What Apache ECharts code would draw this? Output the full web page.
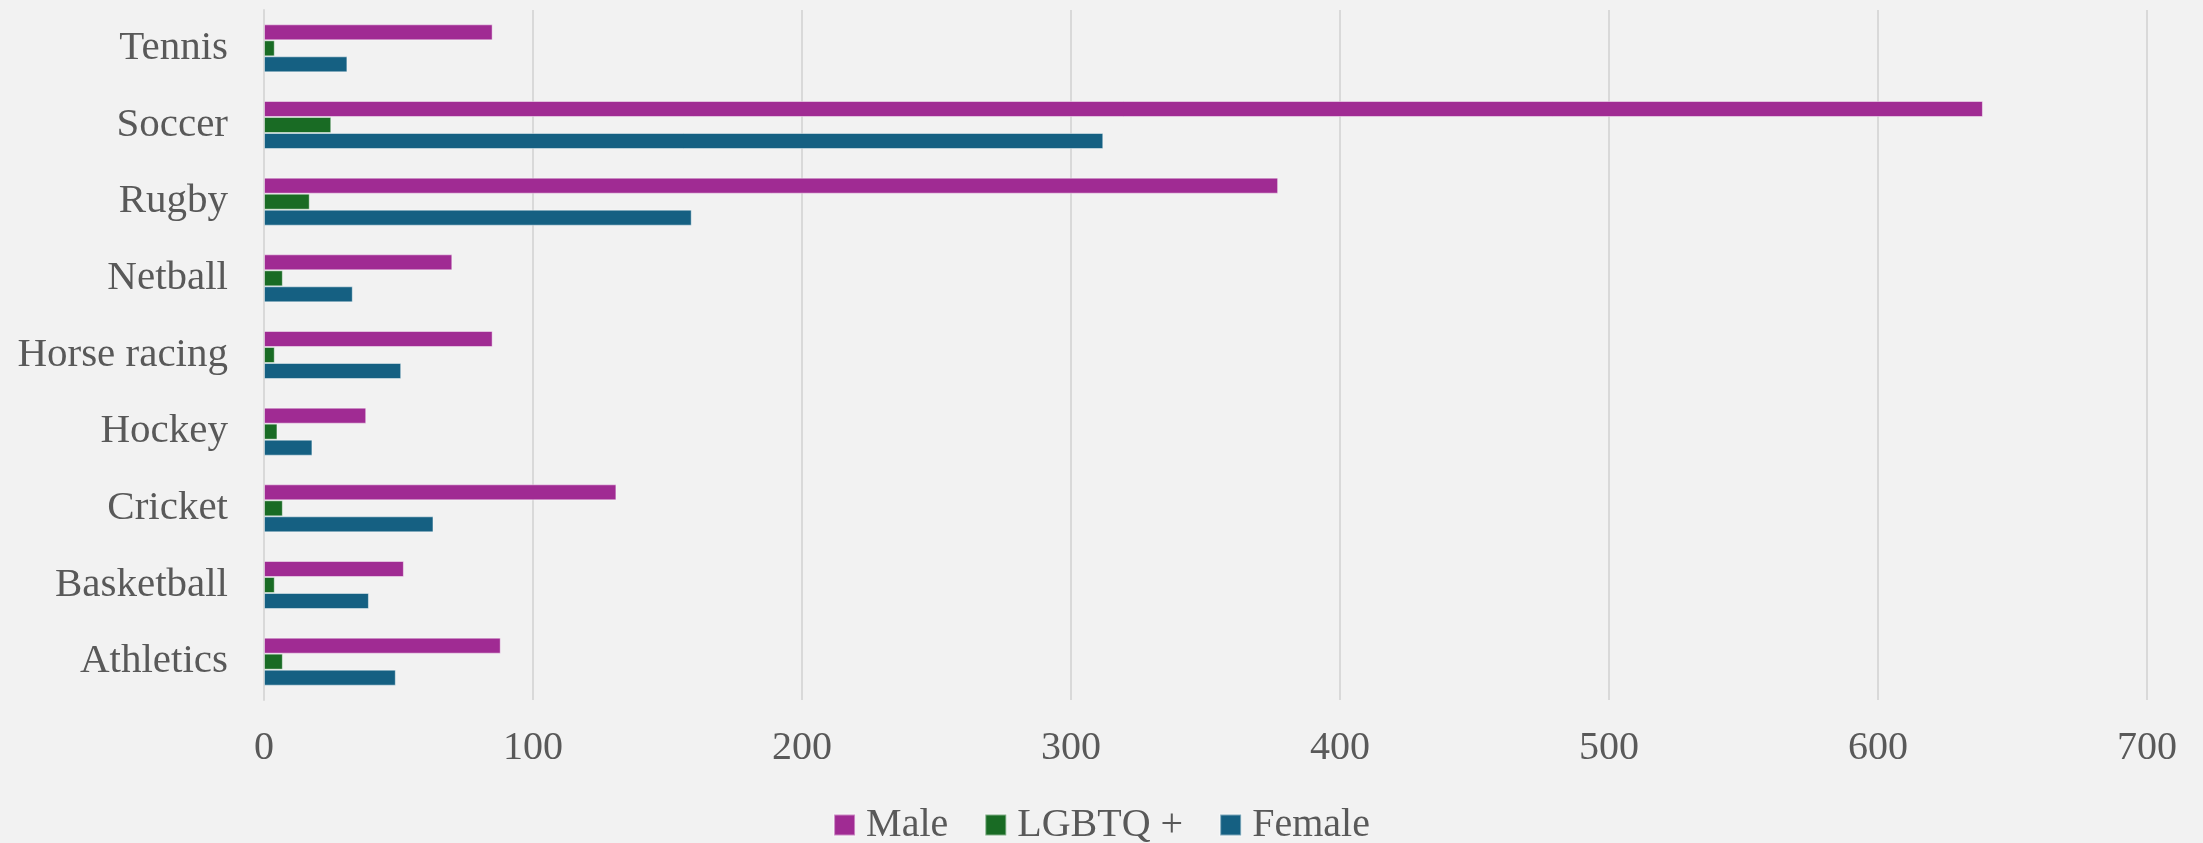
<!DOCTYPE html>
<html>
<head>
<meta charset="utf-8">
<title>Sport participants by gender</title>
<script src="https://cdn.jsdelivr.net/npm/echarts@6/dist/echarts.min.js"></script>
<style>
  html, body { margin: 0; padding: 0; background: #F2F2F2; }
  #chart { width: 2203px; height: 843px; }
</style>
</head>
<body>
<div id="chart"></div>
<script>
// Sports, listed bottom-to-top (category y axis starts at the bottom)
const sports = ['Athletics', 'Basketball', 'Cricket', 'Hockey', 'Horse racing', 'Netball', 'Rugby', 'Soccer', 'Tennis'];

const male   = [88, 52, 131, 38, 85, 70, 377, 639, 85];
const lgbtq  = [7, 4, 7, 5, 4, 7, 17, 25, 4];
const female = [49, 39, 63, 18, 51, 33, 159, 312, 31];

const xTicks = { min: 0, max: 700, interval: 100 };

const colors = { male: '#A02B93', lgbtq: '#196B24', female: '#156082' };
const textColor = '#595959';
const fontFamily = '"Liberation Serif", "Times New Roman", serif';

const chart = echarts.init(document.getElementById('chart'), null, { renderer: 'canvas' });

const barStyle = (color) => ({
  color: color,
  borderColor: 'rgba(255,255,255,0.45)',
  borderWidth: 1
});

chart.setOption({
  backgroundColor: '#F2F2F2',
  animation: false,
  textStyle: { fontFamily: fontFamily, color: textColor },
  grid: { left: 264, right: 56, top: 10, bottom: 143, containLabel: false },
  legend: {
    data: ['Male', 'LGBTQ +', 'Female'],
    left: 'center',
    top: 800,
    itemWidth: 21,
    itemHeight: 21,
    itemGap: 36,
    icon: 'rect',
    textStyle: { fontFamily: fontFamily, fontSize: 40, color: textColor, padding: [0, 0, 0, 6] }
  },
  xAxis: {
    type: 'value',
    min: xTicks.min,
    max: xTicks.max,
    interval: xTicks.interval,
    axisLine: { show: false },
    axisTick: { show: false },
    splitLine: { show: true, lineStyle: { color: '#D9D9D9', width: 2 } },
    axisLabel: { fontFamily: fontFamily, fontSize: 40, color: textColor, margin: 28 }
  },
  yAxis: {
    type: 'category',
    data: sports,
    axisLine: { show: true, lineStyle: { color: '#D9D9D9', width: 2 } },
    axisTick: { show: false },
    axisLabel: { fontFamily: fontFamily, fontSize: 41, color: textColor, margin: 36 }
  },
  // Within each group the first series is drawn uppermost: Male, then LGBTQ +, then Female.
  series: [
    { name: 'Male', type: 'bar', data: male, barWidth: 16, barGap: '0%', itemStyle: barStyle(colors.male) },
    { name: 'LGBTQ +', type: 'bar', data: lgbtq, barWidth: 16, barGap: '0%', itemStyle: barStyle(colors.lgbtq) },
    { name: 'Female', type: 'bar', data: female, barWidth: 16, barGap: '0%', itemStyle: barStyle(colors.female) }
  ]
});
</script>
</body>
</html>
